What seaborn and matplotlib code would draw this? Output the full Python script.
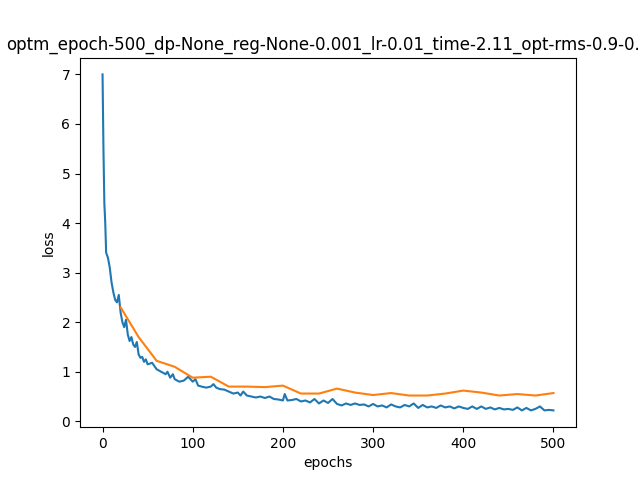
import matplotlib
matplotlib.use('Agg')
import matplotlib.pyplot as plt
import seaborn as sns

train_epochs = [0, 1, 2, 3, 4, 6, 8, 10, 12, 14, 16, 18, 20, 22, 24, 26, 28, 30, 32, 34, 36, 38, 40,
                42, 44, 46, 48, 50, 55, 60, 65, 70, 72, 75, 78, 80, 85, 90, 95, 100, 103, 106, 110,
                115, 120, 123, 126, 130, 135, 140, 145, 150, 153, 156, 160, 165, 170, 175, 180, 185,
                190, 195, 200, 202, 205, 210, 215, 220, 225, 230, 235, 240, 245, 250, 255, 260, 265,
                270, 275, 280, 285, 290, 295, 300, 305, 310, 315, 320, 325, 330, 335, 340, 345, 350,
                355, 360, 365, 370, 375, 380, 385, 390, 395, 400, 405, 410, 415, 420, 425, 430, 435,
                440, 445, 450, 455, 460, 465, 470, 475, 480, 485, 490, 495, 500]
train_loss = [7.0, 5.5, 4.4, 4.0, 3.4, 3.3, 3.1, 2.8, 2.6, 2.45, 2.4, 2.55, 2.2, 2.0, 1.9, 2.05, 1.75,
              1.62, 1.7, 1.55, 1.5, 1.6, 1.35, 1.28, 1.3, 1.2, 1.25, 1.15, 1.18, 1.05, 1.0, 0.95, 1.0,
              0.88, 0.95, 0.85, 0.8, 0.82, 0.9, 0.8, 0.85, 0.72, 0.7, 0.68, 0.7, 0.75, 0.68, 0.65,
              0.64, 0.6, 0.56, 0.58, 0.52, 0.6, 0.52, 0.5, 0.48, 0.5, 0.47, 0.5, 0.45, 0.44, 0.42,
              0.55, 0.42, 0.43, 0.45, 0.4, 0.42, 0.38, 0.45, 0.36, 0.42, 0.37, 0.45, 0.35, 0.32, 0.36,
              0.33, 0.36, 0.33, 0.34, 0.3, 0.35, 0.3, 0.32, 0.28, 0.34, 0.3, 0.28, 0.33, 0.3, 0.36,
              0.27, 0.33, 0.28, 0.3, 0.27, 0.32, 0.28, 0.3, 0.26, 0.3, 0.27, 0.25, 0.3, 0.25, 0.3,
              0.25, 0.28, 0.24, 0.27, 0.24, 0.25, 0.23, 0.28, 0.22, 0.27, 0.22, 0.25, 0.3, 0.22,
              0.23, 0.22]

val_epochs = list(range(20, 501, 20))
val_loss = [2.3, 1.7, 1.22, 1.1, 0.88, 0.9, 0.7, 0.7, 0.69, 0.72, 0.56, 0.56, 0.66, 0.58, 0.53,
            0.57, 0.52, 0.52, 0.56, 0.62, 0.58, 0.52, 0.55, 0.52, 0.57]

fig, ax = plt.subplots(figsize=(6.4, 4.8), dpi=100)
sns.lineplot(x=train_epochs, y=train_loss, ax=ax, color='#1f77b4')
sns.lineplot(x=val_epochs, y=val_loss, ax=ax, color='#ff7f0e')
ax.set_xlabel('epochs')
ax.set_ylabel('loss')
ax.set_title('optm_epoch-500_dp-None_reg-None-0.001_lr-0.01_time-2.11_opt-rms-0.9-0.9')
fig.savefig('out.png')
